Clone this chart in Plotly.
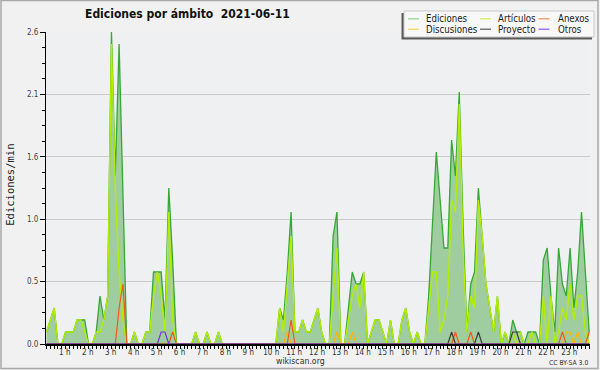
import plotly.graph_objects as go

# ---------------- data (10-minute bins, edits per minute) ----------------
ediciones = [0.1, 0.2, 0.3, 0, 0, 0.1, 0.1, 0.1, 0.2, 0.2, 0.2, 0, 0, 0.1, 0.4, 0.2, 0.4, 2.6, 1.4, 2.5,
             1.2, 0, 0, 0.1, 0, 0, 0.1, 0.1, 0.6, 0.6, 0.6, 0.2, 1.3, 0.7, 0, 0, 0, 0, 0, 0.1,
             0, 0, 0.1, 0, 0, 0.1, 0, 0, 0, 0, 0, 0, 0, 0, 0, 0, 0, 0, 0, 0,
             0, 0.3, 0.2, 0.6, 1.1, 0.1, 0.1, 0.2, 0.1, 0.1, 0.2, 0.3, 0.1, 0, 0, 0.9, 1.1, 0, 0, 0.3,
             0.6, 0.5, 0.5, 0.6, 0, 0.1, 0.2, 0.2, 0.1, 0, 0.2, 0, 0, 0.2, 0.3, 0.1, 0, 0.1, 0, 0,
             0.4, 1.0, 1.6, 1.2, 0.8, 0.8, 1.7, 1.4, 2.1, 1.0, 0.1, 0.5, 0.6, 1.3, 0.9, 0.5, 0.3, 0.1, 0.4, 0,
             0.1, 0, 0.2, 0.1, 0.1, 0, 0.1, 0.1, 0.1, 0, 0.7, 0.8, 0.4, 0.1, 0.8, 0.5, 0.4, 0.8, 0.3, 0.6,
             1.1, 0.6, 0.1]
articulos = [0.1, 0.2, 0.3, 0, 0, 0.1, 0.1, 0.1, 0.2, 0.2, 0.1, 0, 0, 0.1, 0.1, 0.2, 0.4, 2.5, 1.3, 0.6,
             0.2, 0, 0, 0.1, 0, 0, 0.1, 0.1, 0.4, 0.6, 0.4, 0.1, 1.1, 0.2, 0, 0, 0, 0, 0, 0.1,
             0, 0, 0.1, 0, 0, 0.1, 0, 0, 0, 0, 0, 0, 0, 0, 0, 0, 0, 0, 0, 0,
             0, 0.3, 0.1, 0.5, 0.9, 0.1, 0.1, 0.2, 0.1, 0.1, 0.2, 0.3, 0.1, 0, 0, 0.4, 0.8, 0, 0, 0.2,
             0.4, 0.5, 0.3, 0.6, 0, 0.1, 0.2, 0.2, 0.1, 0, 0.2, 0, 0, 0.2, 0.3, 0.1, 0, 0.1, 0, 0,
             0.3, 0.6, 0.6, 0.1, 0.2, 0.4, 1.2, 1.1, 2.0, 0.8, 0.1, 0.4, 0.3, 1.2, 0.9, 0.5, 0.3, 0.1, 0.4, 0,
             0.1, 0, 0.1, 0, 0.1, 0, 0, 0.1, 0, 0, 0.4, 0, 0.4, 0, 0.1, 0.3, 0.2, 0.5, 0.2, 0.4,
             0.4, 0.1, 0]
# sparse series: {bin index: value}
anexos_pts = {19: 0.3, 20: 0.5, 33: 0.1, 64: 0.2, 107: 0.1, 111: 0.1, 135: 0.1, 142: 0.1}
discusiones_pts = {63: 0.1, 76: 0.1, 80: 0.1, 136: 0.1, 137: 0.1, 139: 0.1}
proyecto_pts = {106: 0.1, 113: 0.1, 122: 0.1, 123: 0.1}
otros_pts = {30: 0.1, 31: 0.1}

n = len(ediciones)
hours = [i / 6 for i in range(n)]          # bin start, in hours
def dense(pts):
    return [pts.get(i, 0) for i in range(n)]
anexos = dense(anexos_pts)
discusiones = dense(discusiones_pts)
proyecto = dense(proyecto_pts)
otros = dense(otros_pts)

hour_labels = [f"{h} h" for h in range(1, 24)]
y_tick_vals = [0, 0.52, 1.04, 1.56, 2.08, 2.6]
y_tick_text = ["0.0", "0.5", "1.0", "1.6", "2.1", "2.6"]

series = [
    ("Ediciones", "#8fd08f"), ("Artículos", "#d2ee5a"), ("Anexos", "#f88a55"),
    ("Discusiones", "#f8d458"), ("Proyecto", "#555555"), ("Otros", "#9055ee"),
]

# ---------------- figure ----------------
W, H = 600, 370
L, R, T, B = 46, 10, 32, 26
PW, PH = W - L - R, H - T - B
def px(x):
    return (x - L) / PW
def py(y):
    return (H - B - y) / PH

FONT = "DejaVu Sans Condensed, DejaVu Sans"

fig = go.Figure()
fig.add_trace(go.Scatter(x=hours, y=ediciones, mode="lines", fill="tozeroy",
                         fillcolor="rgb(160,205,160)", line=dict(color="#36a836", width=1.3),
                         showlegend=False, hoverinfo="skip"))
fig.add_trace(go.Scatter(x=hours, y=articulos, mode="lines",
                         line=dict(color="#b4ee00", width=1.4), showlegend=False, hoverinfo="skip"))
for vals, col in [(discusiones, "#ffb400"), (anexos, "#f05a14"), (proyecto, "#3c3c3c"), (otros, "#7830e6")]:
    fig.add_trace(go.Scatter(x=hours, y=vals, mode="lines", line=dict(color=col, width=1.2),
                             showlegend=False, hoverinfo="skip"))

scale = 22.93  # px per hour
x0 = -0.5 / scale
fig.update_xaxes(range=[x0, x0 + PW / scale], showgrid=False, zeroline=False,
                 showline=True, linecolor="black", linewidth=1.6,
                 tickmode="array", tickvals=[h - 0.2 for h in range(1, 24)], ticktext=hour_labels,
                 ticks="", tickfont=dict(family=FONT, size=8, color="#333333"),
                 minor=dict(ticks="outside", ticklen=3, tickcolor="black", tickwidth=1,
                            tick0=0, dtick=1 / 6, showgrid=False))
fig.update_yaxes(range=[0, 2.6], showgrid=True, gridcolor="#cccccc", gridwidth=1, zeroline=False,
                 showline=True, linecolor="black", linewidth=1,
                 tickmode="array", tickvals=y_tick_vals, ticktext=y_tick_text,
                 ticks="outside", ticklen=5, tickcolor="black",
                 tickfont=dict(family=FONT, size=8, color="#444444"),
                 minor=dict(ticks="outside", ticklen=3, tickcolor="black", tick0=0, dtick=0.13,
                            showgrid=False))

shapes = []
ann = []
# outer frame
shapes.append(dict(type="rect", xref="paper", yref="paper", x0=px(1), x1=px(598), y0=py(368.5), y1=py(0.5),
                   line=dict(color="#a8a8a8", width=1.5), layer="below"))
# legend box with shadow
shapes.append(dict(type="rect", xref="paper", yref="paper", x0=px(401.5), x1=px(592), y0=py(39.5), y1=py(13),
                   fillcolor="#5a5a5a", line=dict(width=0)))
shapes.append(dict(type="rect", xref="paper", yref="paper", x0=px(404), x1=px(594), y0=py(37), y1=py(11),
                   fillcolor="#f8f8f8", line=dict(color="#c8c8c8", width=1)))
cols = [(408, 424), (480, 496), (538.5, 555.5)]
rows = [18.8, 29.2]
for k, (name, col) in enumerate(series):
    r, c = divmod(k, 3)
    lx, tx = cols[c]
    yy = rows[r]
    shapes.append(dict(type="line", xref="paper", yref="paper", x0=px(lx), x1=px(lx + 11),
                       y0=py(yy), y1=py(yy), line=dict(color=col, width=1.2)))
    ann.append(dict(text=name, xref="paper", yref="paper", x=px(tx), y=py(yy), xanchor="left",
                    yanchor="middle", showarrow=False, font=dict(family=FONT, size=9.6, color="#222222")))

ann.append(dict(text="Ediciones por ámbito \u00a02021-06-11", xref="paper", yref="paper",
                x=px(187.5), y=py(14), xanchor="center", yanchor="middle", showarrow=False,
                font=dict(family=FONT, size=12, color="#111111", weight="bold")))
ann.append(dict(text="Ediciones/min", xref="paper", yref="paper", x=px(9.7), y=py(185),
                xanchor="center", yanchor="middle", textangle=-90, showarrow=False,
                font=dict(family="DejaVu Sans Mono", size=10.5, color="#222222")))
ann.append(dict(text="wikiscan.org", xref="paper", yref="paper", x=px(300.5), y=py(361),
                xanchor="center", yanchor="middle", showarrow=False,
                font=dict(family=FONT, size=8.7, color="#333333")))
ann.append(dict(text="CC BY-SA 3.0", xref="paper", yref="paper", x=px(590), y=py(363),
                xanchor="right", yanchor="middle", showarrow=False,
                font=dict(family=FONT, size=6.8, color="#333333")))

fig.update_layout(width=W, height=H, margin=dict(l=L, r=R, t=T, b=B, pad=0),
                  paper_bgcolor="#f1f1f1", plot_bgcolor="#eef0f1",
                  shapes=shapes, annotations=ann, showlegend=False)

fig.write_html("out.html", config={"displayModeBar": False},
               post_script="document.body.style.margin='0';document.body.style.overflow='hidden';")
